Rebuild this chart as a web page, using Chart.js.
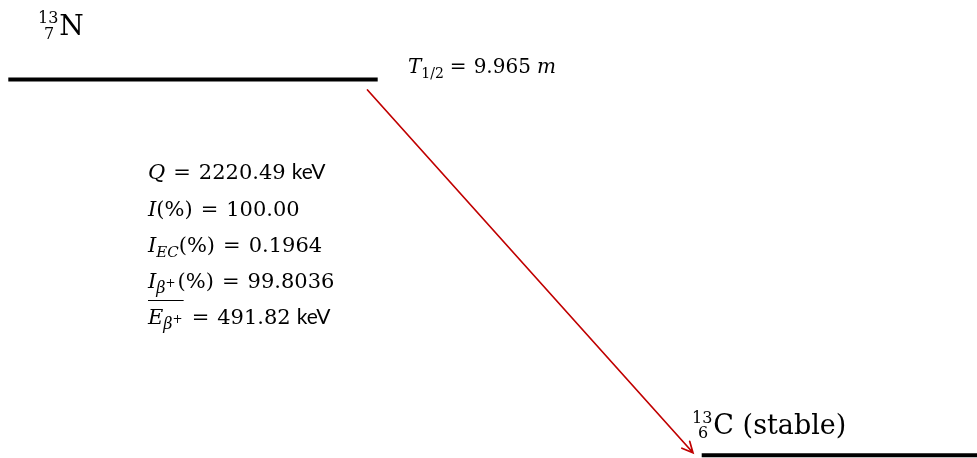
<!DOCTYPE html>
<html>
<head>
<meta charset="utf-8">
<title>13N decay scheme</title>
<script src="https://cdn.jsdelivr.net/npm/chart.js@4.4.1/dist/chart.umd.min.js"></script>
<style>
  html, body { margin: 0; padding: 0; background: #ffffff; }
  #wrap { width: 977px; height: 458px; }
  canvas { display: block; }
</style>
</head>
<body>
<div id="wrap"><canvas id="scheme" width="977" height="458"></canvas></div>
<script>
// Nuclides of the decay: parent 13N, daughter 13C
const symbols = ['N', 'C'];
const massNumbers = [13, 13];
const atomicNumbers = [7, 6];
const levelEnergies = [2220.49, 0];        // keV, level energy above the ground state of 13C
const levelNotes = ['', '(stable)'];

// Parent half-life
const halfLifeValue = ['9.965'];
const halfLifeUnit = ['m'];

// Decay branch values
const qValue = [2220.49];                  // keV
const totalIntensity = [100.00];           // %
const ecIntensity = [0.1964];              // %
const betaPlusIntensity = [99.8036];       // %
const meanBetaEnergy = [491.82];           // keV

// Drawing layout (pixel units of the horizontal scale)
const levelSpans = [[8.3, 377.7], [701.7, 977]];
const arrowX = [367.5, 693];
const SERIF = '"DejaVu Serif"';
const SANS = 'Lato';
const INK = '#000000';
const ARROW = '#c00000';

function levelDataset(i) {
  return {
    label: symbols[i],
    data: [
      { x: levelSpans[i][0], y: levelEnergies[i] },
      { x: levelSpans[i][1], y: levelEnergies[i] }
    ],
    borderColor: INK,
    borderWidth: 4,
    pointRadius: 0,
    borderCapStyle: 'butt',
    clip: false
  };
}

// Rich text: a sequence of runs, each with its own font and vertical shift
function drawRuns(ctx, x, baseline, runs) {
  let cx = x;
  const marks = [];
  for (const r of runs) {
    ctx.font = (r.it ? 'italic ' : '') + r.size + 'px ' + (r.sans ? SANS : SERIF);
    ctx.fillStyle = INK;
    ctx.textBaseline = 'alphabetic';
    ctx.textAlign = 'left';
    ctx.fillText(r.t, cx, baseline + (r.dy || 0));
    const w = ctx.measureText(r.t).width;
    marks.push([cx, cx + w]);
    cx += (r.adv === undefined ? w : r.adv) + (r.gap || 0);
  }
  return marks;
}

const fmt2 = v => v.toFixed(2);

// "= value" pieces with the wider math spacing around the equals sign
function equals(size, value) {
  return [
    { t: '=', size: size, gap: 8 },
    { t: value, size: size, gap: 6 }
  ];
}

const textPlugin = {
  id: 'schemeText',
  afterDraw(chart) {
    const ctx = chart.ctx;
    ctx.save();

    // Nuclide labels with mass number (superscript) and atomic number (subscript)
    const nucPos = [[38, 35, 28], [692, 434, 27]];
    for (let i = 0; i < symbols.length; i++) {
      const [x, b, s] = nucPos[i];
      const small = Math.round(s * 0.58);
      ctx.font = small + 'px ' + SERIF;
      const wMass = ctx.measureText(String(massNumbers[i])).width;
      const wZ = ctx.measureText(String(atomicNumbers[i])).width;
      const colW = Math.max(wMass, wZ);
      drawRuns(ctx, x, b, [{ t: String(massNumbers[i]), size: small, dy: -s * 0.42, adv: 0 }]);
      drawRuns(ctx, x + (colW - wZ) / 2 + 1, b, [{ t: String(atomicNumbers[i]), size: small, dy: s * 0.15, adv: 0 }]);
      const runs = [{ t: symbols[i], size: s }];
      if (levelNotes[i]) runs.push({ t: ' ' + levelNotes[i], size: s });
      drawRuns(ctx, x + colW + 1, b, runs);
    }

    // Half-life of the parent
    drawRuns(ctx, 408, 73, [
      { t: 'T', it: true, size: 20 },
      { t: '1/2', size: 14, dy: 5, gap: 6 },
      { t: '=', size: 20, gap: 7 },
      { t: halfLifeValue[0], size: 20, gap: 6 },
      { t: halfLifeUnit[0], it: true, size: 20 }
    ]);

    // Branch information
    const x0 = 148, S = 21, sub = 15, beta = 16, sup = 12, U = 21;
    drawRuns(ctx, x0, 179, [
      { t: 'Q', it: true, size: S, gap: 8 },
      ...equals(S, fmt2(qValue[0])),
      { t: 'keV', sans: true, size: U }
    ]);
    drawRuns(ctx, x0, 216, [
      { t: 'I', it: true, size: S },
      { t: '(%)', size: S, gap: 8 },
      ...equals(S, fmt2(totalIntensity[0]))
    ]);
    drawRuns(ctx, x0, 252, [
      { t: 'I', it: true, size: S },
      { t: 'EC', it: true, size: sub, dy: 5 },
      { t: '(%)', size: S, gap: 8 },
      ...equals(S, ecIntensity[0].toFixed(4))
    ]);
    drawRuns(ctx, x0, 288, [
      { t: 'I', it: true, size: S },
      { t: 'β', it: true, size: beta, dy: 5 },
      { t: '+', size: sup, dy: -1, gap: 2 },
      { t: '(%)', size: S, gap: 8 },
      ...equals(S, betaPlusIntensity[0].toFixed(4))
    ]);
    const m = drawRuns(ctx, x0, 324, [
      { t: 'E', it: true, size: S },
      { t: 'β', it: true, size: beta, dy: 5 },
      { t: '+', size: sup, dy: -1, gap: 9 },
      ...equals(S, fmt2(meanBetaEnergy[0])),
      { t: 'keV', sans: true, size: U }
    ]);
    ctx.strokeStyle = INK;
    ctx.lineWidth = 1.2;
    ctx.beginPath();
    ctx.moveTo(x0, 300.5);
    ctx.lineTo(m[2][1] + 1, 300.5);
    ctx.stroke();

    ctx.restore();
  }
};

// Beta+/EC transition arrow from the parent level to the daughter ground state
const arrowPlugin = {
  id: 'transitionArrow',
  afterDatasetsDraw(chart) {
    const ctx = chart.ctx;
    const xs = chart.scales.x, ys = chart.scales.y;
    const x1 = xs.getPixelForValue(arrowX[0]);
    const y1 = ys.getPixelForValue(levelEnergies[0]) + 10.5;
    const x2 = xs.getPixelForValue(arrowX[1]);
    const y2 = ys.getPixelForValue(levelEnergies[1]) - 2.5;
    const ang = Math.atan2(y2 - y1, x2 - x1);
    const head = 12, spread = 0.45;
    ctx.save();
    ctx.strokeStyle = ARROW;
    ctx.lineWidth = 1.7;
    ctx.lineCap = 'round';
    ctx.beginPath();
    ctx.moveTo(x1, y1);
    ctx.lineTo(x2, y2);
    ctx.moveTo(x2 - head * Math.cos(ang - spread), y2 - head * Math.sin(ang - spread));
    ctx.lineTo(x2, y2);
    ctx.lineTo(x2 - head * Math.cos(ang + spread), y2 - head * Math.sin(ang + spread));
    ctx.stroke();
    ctx.restore();
  }
};

new Chart(document.getElementById('scheme'), {
  type: 'line',
  data: { datasets: symbols.map((_, i) => levelDataset(i)) },
  options: {
    responsive: false,
    animation: false,
    parsing: false,
    layout: { padding: 0 },
    plugins: { legend: { display: false }, tooltip: { enabled: false }, title: { display: false } },
    scales: {
      x: { type: 'linear', display: false, min: 0, max: 977 },
      y: { type: 'linear', display: false, min: -15.95, max: 2690.2 }
    }
  },
  plugins: [arrowPlugin, textPlugin]
});
</script>
</body>
</html>
